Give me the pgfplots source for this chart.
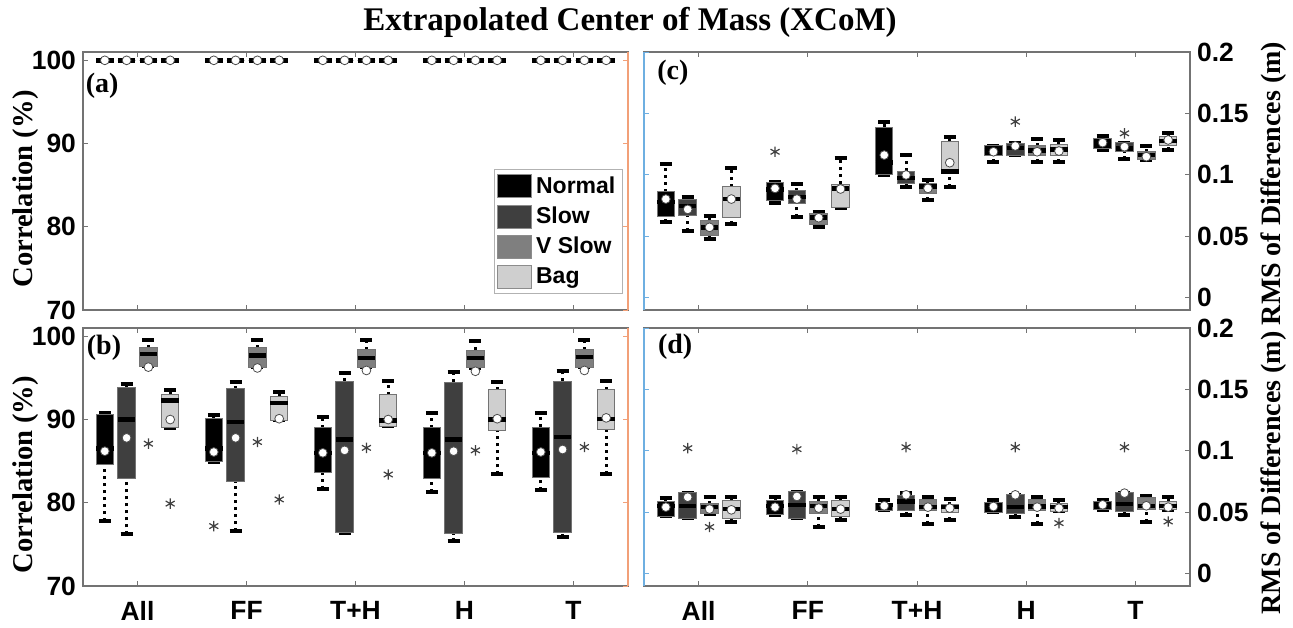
\documentclass[border=0pt]{standalone}
\usepackage{fontspec}
\setmainfont{Liberation Serif}
\newfontfamily\arial{Liberation Sans}
\usepackage{pgfplots}
\pgfplotsset{compat=1.18}
\usepgfplotslibrary{statistics}

\definecolor{cN}{RGB}{0,0,0}
\definecolor{cS}{RGB}{63,63,63}
\definecolor{cV}{RGB}{127,127,127}
\definecolor{cB}{RGB}{207,207,207}
\definecolor{spineor}{RGB}{242,160,120}
\definecolor{spinebl}{RGB}{110,175,225}

\newcommand{\tickfont}{\arial\bfseries\fontsize{13.2}{15}\selectfont}
\newcommand{\legfont}{\arial\bfseries\fontsize{11.5}{13}\selectfont}
\newcommand{\labfont}{\bfseries\fontsize{14}{16}\selectfont}
\newcommand{\corrfont}{\bfseries\fontsize{14.3}{16}\selectfont}
\newcommand{\rmsfont}{\bfseries\fontsize{14}{16}\selectfont}
\newcommand{\titfont}{\bfseries\fontsize{16.5}{19}\selectfont}

% one box: position, lower whisker, lower quartile, median, upper quartile, upper whisker, colour, mean
\newcommand{\bx}[8]{%
  \addplot[bxs, fill=#7, boxplot prepared={draw position=#1,
    lower whisker=#2, lower quartile=#3, median=#4,
    upper quartile=#5, upper whisker=#6}] coordinates {};
  \addplot[meanmark] coordinates {(#1,#8)};
}

\pgfplotsset{
  panel/.style={
    anchor=south west, scale only axis, width=272.5pt, height=129pt,
    xmin=0.5, xmax=5.5, xtick={1,2,3,4,5},
    tick align=inside, xtick pos=both,
    axis line style={black!55, line width=0.6pt},
    major tick length=2.5pt,
    tick style={black!55, line width=0.5pt},
    ticklabel style={font=\tickfont},
    xticklabel style={yshift=-4pt},
    /pgf/number format/assume math mode=true,
    clip=false,
    boxplot/draw direction=y,
    boxplot/box extend=0.16,
    boxplot/whisker extend=0.11,
    boxplot/every median/.style={black, line width=2.2pt},
    boxplot/draw/lower whisker/.code={%
      \draw[black, line width=1.5pt, dash pattern=on 1.5pt off 2pt, fill=none]
        (boxplot box cs:\pgfplotsboxplotvalue{lower whisker},0.5)
        -- (boxplot box cs:\pgfplotsboxplotvalue{lower quartile},0.5);
      \draw[black, line width=2pt, fill=none]
        (boxplot whisker cs:\pgfplotsboxplotvalue{lower whisker},0)
        -- (boxplot whisker cs:\pgfplotsboxplotvalue{lower whisker},1);
    },
    boxplot/draw/upper whisker/.code={%
      \draw[black, line width=1.5pt, dash pattern=on 1.5pt off 2pt, fill=none]
        (boxplot box cs:\pgfplotsboxplotvalue{upper quartile},0.5)
        -- (boxplot box cs:\pgfplotsboxplotvalue{upper whisker},0.5);
      \draw[black, line width=2pt, fill=none]
        (boxplot whisker cs:\pgfplotsboxplotvalue{upper whisker},0)
        -- (boxplot whisker cs:\pgfplotsboxplotvalue{upper whisker},1);
    },
  },
  corr/.style={panel, ymin=70, ymax=101, ytick={70,80,90,100}, ytick pos=left,
    ylabel={Correlation (\%)}},
  rms/.style={panel, ymin=-0.01, ymax=0.2, ytick={0,0.05,0.1,0.15,0.2},
    yticklabels={0,0.05,0.1,0.15,0.2}, ytick pos=right, yticklabel pos=right,
    ylabel={RMS of Differences (m)}},
  ylab/.style 2 args={every axis y label/.style={at={(axis description cs:#1,#2)},
      rotate=90, anchor=center}},
  spine/.style={anchor=south west, scale only axis, width=272.5pt, height=129pt,
    xmin=0.5, xmax=5.5, axis x line=none, axis line style={-},
    yticklabels={}, tick align=inside, major tick length=2.5pt},
  bxs/.style={draw=black!55, line width=0.5pt},
  meanmark/.style={only marks, mark=*, mark size=2.2pt,
    mark options={fill=white, draw=black!70, line width=0.4pt}},
  outl/.style={only marks, mark=asterisk, mark size=2.6pt,
    mark options={draw=black!75, line width=0.6pt}},
}

\begin{document}
\begin{tikzpicture}
\useasboundingbox (0,0) rectangle (646.5pt,313.5pt);
\node[font=\titfont] at (315pt,302.5pt) {Extrapolated Center of Mass (XCoM)};

% (a)
\begin{axis}[corr, at={(41.5pt,158.5pt)}, xticklabels={},
  ylab={-0.1046}{0.469}, ylabel style={font=\corrfont},
  legend style={at={(axis description cs:0.754,0.5465)}, anchor=north west,
    draw=black!30, fill=white, font=\legfont, inner sep=1.5pt, row sep=1.3pt},
  legend cell align=left,
  legend image code/.code={\draw[#1, draw=black!45] (0pt,-5.7pt) rectangle (17pt,5.7pt);}]
\addlegendimage{fill=cN}\addlegendentry{Normal}
\addlegendimage{fill=cS}\addlegendentry{Slow}
\addlegendimage{fill=cV}\addlegendentry{V Slow}
\addlegendimage{fill=cB}\addlegendentry{Bag}
\bx{0.7}{100}{100}{100}{100}{100}{cN}{100}
\bx{0.9}{100}{100}{100}{100}{100}{cS}{100}
\bx{1.1}{100}{100}{100}{100}{100}{cV}{100}
\bx{1.3}{100}{100}{100}{100}{100}{cB}{100}
\bx{1.7}{100}{100}{100}{100}{100}{cN}{100}
\bx{1.9}{100}{100}{100}{100}{100}{cS}{100}
\bx{2.1}{100}{100}{100}{100}{100}{cV}{100}
\bx{2.3}{100}{100}{100}{100}{100}{cB}{100}
\bx{2.7}{100}{100}{100}{100}{100}{cN}{100}
\bx{2.9}{100}{100}{100}{100}{100}{cS}{100}
\bx{3.1}{100}{100}{100}{100}{100}{cV}{100}
\bx{3.3}{100}{100}{100}{100}{100}{cB}{100}
\bx{3.7}{100}{100}{100}{100}{100}{cN}{100}
\bx{3.9}{100}{100}{100}{100}{100}{cS}{100}
\bx{4.1}{100}{100}{100}{100}{100}{cV}{100}
\bx{4.3}{100}{100}{100}{100}{100}{cB}{100}
\bx{4.7}{100}{100}{100}{100}{100}{cN}{100}
\bx{4.9}{100}{100}{100}{100}{100}{cS}{100}
\bx{5.1}{100}{100}{100}{100}{100}{cV}{100}
\bx{5.3}{100}{100}{100}{100}{100}{cB}{100}
\node[font=\labfont] at (axis description cs:0.035,0.868) {(a)};
\end{axis}
\begin{axis}[spine, at={(41.5pt,158.5pt)}, ymin=70, ymax=101, axis y line*=right,
  ytick={70,80,90,100}, y axis line style={spineor, line width=0.6pt},
  tick style={spineor, line width=0.5pt}]
\end{axis}

% (b)
\begin{axis}[corr, at={(41.5pt,20.5pt)}, xticklabels={All,FF,T+H,H,T},
  ylab={-0.1046}{0.432}, ylabel style={font=\corrfont}]
\bx{0.7}{77.8}{84.6}{86.5}{90.6}{90.8}{cN}{86.2}
\bx{0.9}{76.2}{82.9}{90.0}{93.8}{94.3}{cS}{87.8}
\bx{1.1}{96.4}{96.4}{97.9}{98.6}{99.5}{cV}{96.3}
\bx{1.3}{89.0}{89.0}{92.3}{93.0}{93.6}{cB}{90.0}
\bx{1.7}{84.9}{84.9}{86.5}{90.1}{90.6}{cN}{86.1}
\bx{1.9}{76.6}{82.5}{89.7}{93.7}{94.5}{cS}{87.8}
\bx{2.1}{96.3}{96.3}{97.7}{98.6}{99.5}{cV}{96.2}
\bx{2.3}{89.9}{89.9}{92.0}{92.8}{93.3}{cB}{90.1}
\bx{2.7}{81.7}{83.6}{86.0}{89.0}{90.3}{cN}{86.0}
\bx{2.9}{76.4}{76.4}{87.6}{94.6}{95.6}{cS}{86.3}
\bx{3.1}{96.3}{96.3}{97.4}{98.4}{99.5}{cV}{95.9}
\bx{3.3}{89.2}{89.2}{89.9}{93.0}{94.6}{cB}{90.0}
\bx{3.7}{81.3}{82.9}{86.0}{89.0}{90.8}{cN}{86.0}
\bx{3.9}{75.4}{76.3}{87.6}{94.5}{95.7}{cS}{86.2}
\bx{4.1}{96.2}{96.2}{97.4}{98.3}{99.4}{cV}{95.8}
\bx{4.3}{83.4}{88.7}{90.0}{93.6}{94.5}{cB}{90.1}
\bx{4.7}{81.5}{83.0}{86.0}{89.1}{90.8}{cN}{86.1}
\bx{4.9}{75.9}{76.4}{87.9}{94.6}{95.8}{cS}{86.4}
\bx{5.1}{96.3}{96.3}{97.5}{98.4}{99.5}{cV}{95.9}
\bx{5.3}{83.5}{88.8}{90.1}{93.6}{94.6}{cB}{90.2}
\addplot[outl] coordinates {(1.1,87.1) (1.3,79.9) (1.7,77.2) (2.1,87.3) (2.3,80.4)
  (3.1,86.6) (3.3,83.4) (4.1,86.3) (5.1,86.7)};
\node[font=\labfont] at (axis description cs:0.0385,0.922) {(b)};
\end{axis}
\begin{axis}[spine, at={(41.5pt,20.5pt)}, ymin=70, ymax=101, axis y line*=right,
  ytick={70,80,90,100}, y axis line style={spineor, line width=0.6pt},
  tick style={spineor, line width=0.5pt}]
\end{axis}

% (c)
\begin{axis}[rms, at={(322pt,158.5pt)}, width=273pt, xticklabels={},
  ylab={1.1538}{0.49}, ylabel style={font=\rmsfont}]
\bx{0.7}{0.0614}{0.0665}{0.0780}{0.0863}{0.1088}{cN}{0.0803}
\bx{0.9}{0.0545}{0.0673}{0.0745}{0.0801}{0.0822}{cS}{0.0719}
\bx{1.1}{0.0478}{0.0510}{0.0573}{0.0632}{0.0665}{cV}{0.0573}
\bx{1.3}{0.0600}{0.0651}{0.0803}{0.0904}{0.1053}{cB}{0.0803}
\bx{1.7}{0.0768}{0.0795}{0.0880}{0.0939}{0.0939}{cN}{0.0890}
\bx{1.9}{0.0654}{0.0768}{0.0822}{0.0871}{0.0923}{cS}{0.0803}
\bx{2.1}{0.0578}{0.0600}{0.0654}{0.0687}{0.0700}{cV}{0.0651}
\bx{2.3}{0.0733}{0.0733}{0.0890}{0.0925}{0.1135}{cB}{0.0885}
\bx{2.7}{0.0995}{0.0999}{0.1100}{0.1387}{0.1433}{cN}{0.1161}
\bx{2.9}{0.0904}{0.0931}{0.0972}{0.1031}{0.1161}{cS}{0.0999}
\bx{3.1}{0.0795}{0.0850}{0.0904}{0.0931}{0.0958}{cV}{0.0890}
\bx{3.3}{0.0904}{0.1013}{0.1026}{0.1270}{0.1306}{cB}{0.1099}
\bx{3.7}{0.1102}{0.1161}{0.1200}{0.1235}{0.1235}{cN}{0.1188}
\bx{3.9}{0.1161}{0.1161}{0.1220}{0.1257}{0.1257}{cS}{0.1235}
\bx{4.1}{0.1107}{0.1161}{0.1197}{0.1237}{0.1292}{cV}{0.1188}
\bx{4.3}{0.1107}{0.1161}{0.1208}{0.1248}{0.1284}{cB}{0.1194}
\bx{4.7}{0.1200}{0.1216}{0.1260}{0.1297}{0.1316}{cN}{0.1262}
\bx{4.9}{0.1126}{0.1188}{0.1216}{0.1262}{0.1262}{cS}{0.1229}
\bx{5.1}{0.1121}{0.1121}{0.1161}{0.1188}{0.1235}{cV}{0.1148}
\bx{5.3}{0.1202}{0.1235}{0.1278}{0.1316}{0.1338}{cB}{0.1284}
\addplot[outl] coordinates {(1.7,0.1188) (3.9,0.1433) (4.9,0.1338)};
\node[font=\labfont] at (axis description cs:0.053,0.919) {(c)};
\end{axis}
\begin{axis}[spine, at={(322pt,158.5pt)}, width=273pt, ymin=-0.01, ymax=0.2,
  axis y line*=left, ytick={0,0.05,0.1,0.15,0.2},
  y axis line style={spinebl, line width=0.6pt}, tick style={spinebl, line width=0.5pt}]
\end{axis}

% (d)
\begin{axis}[rms, at={(322pt,20.5pt)}, width=273pt, xticklabels={All,FF,T+H,H,T},
  ylab={1.1538}{0.438}, ylabel style={font=\rmsfont}]
\bx{0.7}{0.0466}{0.0466}{0.0550}{0.0588}{0.0615}{cN}{0.0542}
\bx{0.9}{0.0453}{0.0453}{0.0553}{0.0661}{0.0661}{cS}{0.0623}
\bx{1.1}{0.0488}{0.0488}{0.0542}{0.0569}{0.0623}{cV}{0.0526}
\bx{1.3}{0.0425}{0.0453}{0.0526}{0.0596}{0.0623}{cB}{0.0520}
\bx{1.7}{0.0480}{0.0480}{0.0550}{0.0596}{0.0623}{cN}{0.0542}
\bx{1.9}{0.0453}{0.0453}{0.0561}{0.0669}{0.0669}{cS}{0.0629}
\bx{2.1}{0.0380}{0.0493}{0.0553}{0.0588}{0.0623}{cV}{0.0534}
\bx{2.3}{0.0434}{0.0466}{0.0526}{0.0596}{0.0623}{cB}{0.0526}
\bx{2.7}{0.0515}{0.0515}{0.0560}{0.0575}{0.0602}{cN}{0.0553}
\bx{2.9}{0.0480}{0.0515}{0.0588}{0.0634}{0.0661}{cS}{0.0642}
\bx{3.1}{0.0407}{0.0515}{0.0542}{0.0602}{0.0623}{cV}{0.0542}
\bx{3.3}{0.0434}{0.0499}{0.0542}{0.0561}{0.0607}{cB}{0.0534}
\bx{3.7}{0.0499}{0.0499}{0.0550}{0.0580}{0.0596}{cN}{0.0547}
\bx{3.9}{0.0461}{0.0493}{0.0542}{0.0642}{0.0642}{cS}{0.0642}
\bx{4.1}{0.0407}{0.0515}{0.0547}{0.0602}{0.0621}{cV}{0.0542}
\bx{4.3}{0.0507}{0.0507}{0.0542}{0.0575}{0.0602}{cB}{0.0534}
\bx{4.7}{0.0520}{0.0520}{0.0560}{0.0588}{0.0602}{cN}{0.0561}
\bx{4.9}{0.0480}{0.0507}{0.0569}{0.0661}{0.0661}{cS}{0.0656}
\bx{5.1}{0.0425}{0.0526}{0.0553}{0.0623}{0.0634}{cV}{0.0553}
\bx{5.3}{0.0520}{0.0520}{0.0553}{0.0588}{0.0621}{cB}{0.0542}
\addplot[outl] coordinates {(0.9,0.1022) (1.1,0.0380) (1.9,0.1014) (2.9,0.1030)
  (3.9,0.1030) (4.3,0.0412) (4.9,0.1030) (5.3,0.0425)};
\node[font=\labfont] at (axis description cs:0.057,0.926) {(d)};
\end{axis}
\begin{axis}[spine, at={(322pt,20.5pt)}, width=273pt, ymin=-0.01, ymax=0.2,
  axis y line*=left, ytick={0,0.05,0.1,0.15,0.2},
  y axis line style={spinebl, line width=0.6pt}, tick style={spinebl, line width=0.5pt}]
\end{axis}
\end{tikzpicture}
\end{document}
